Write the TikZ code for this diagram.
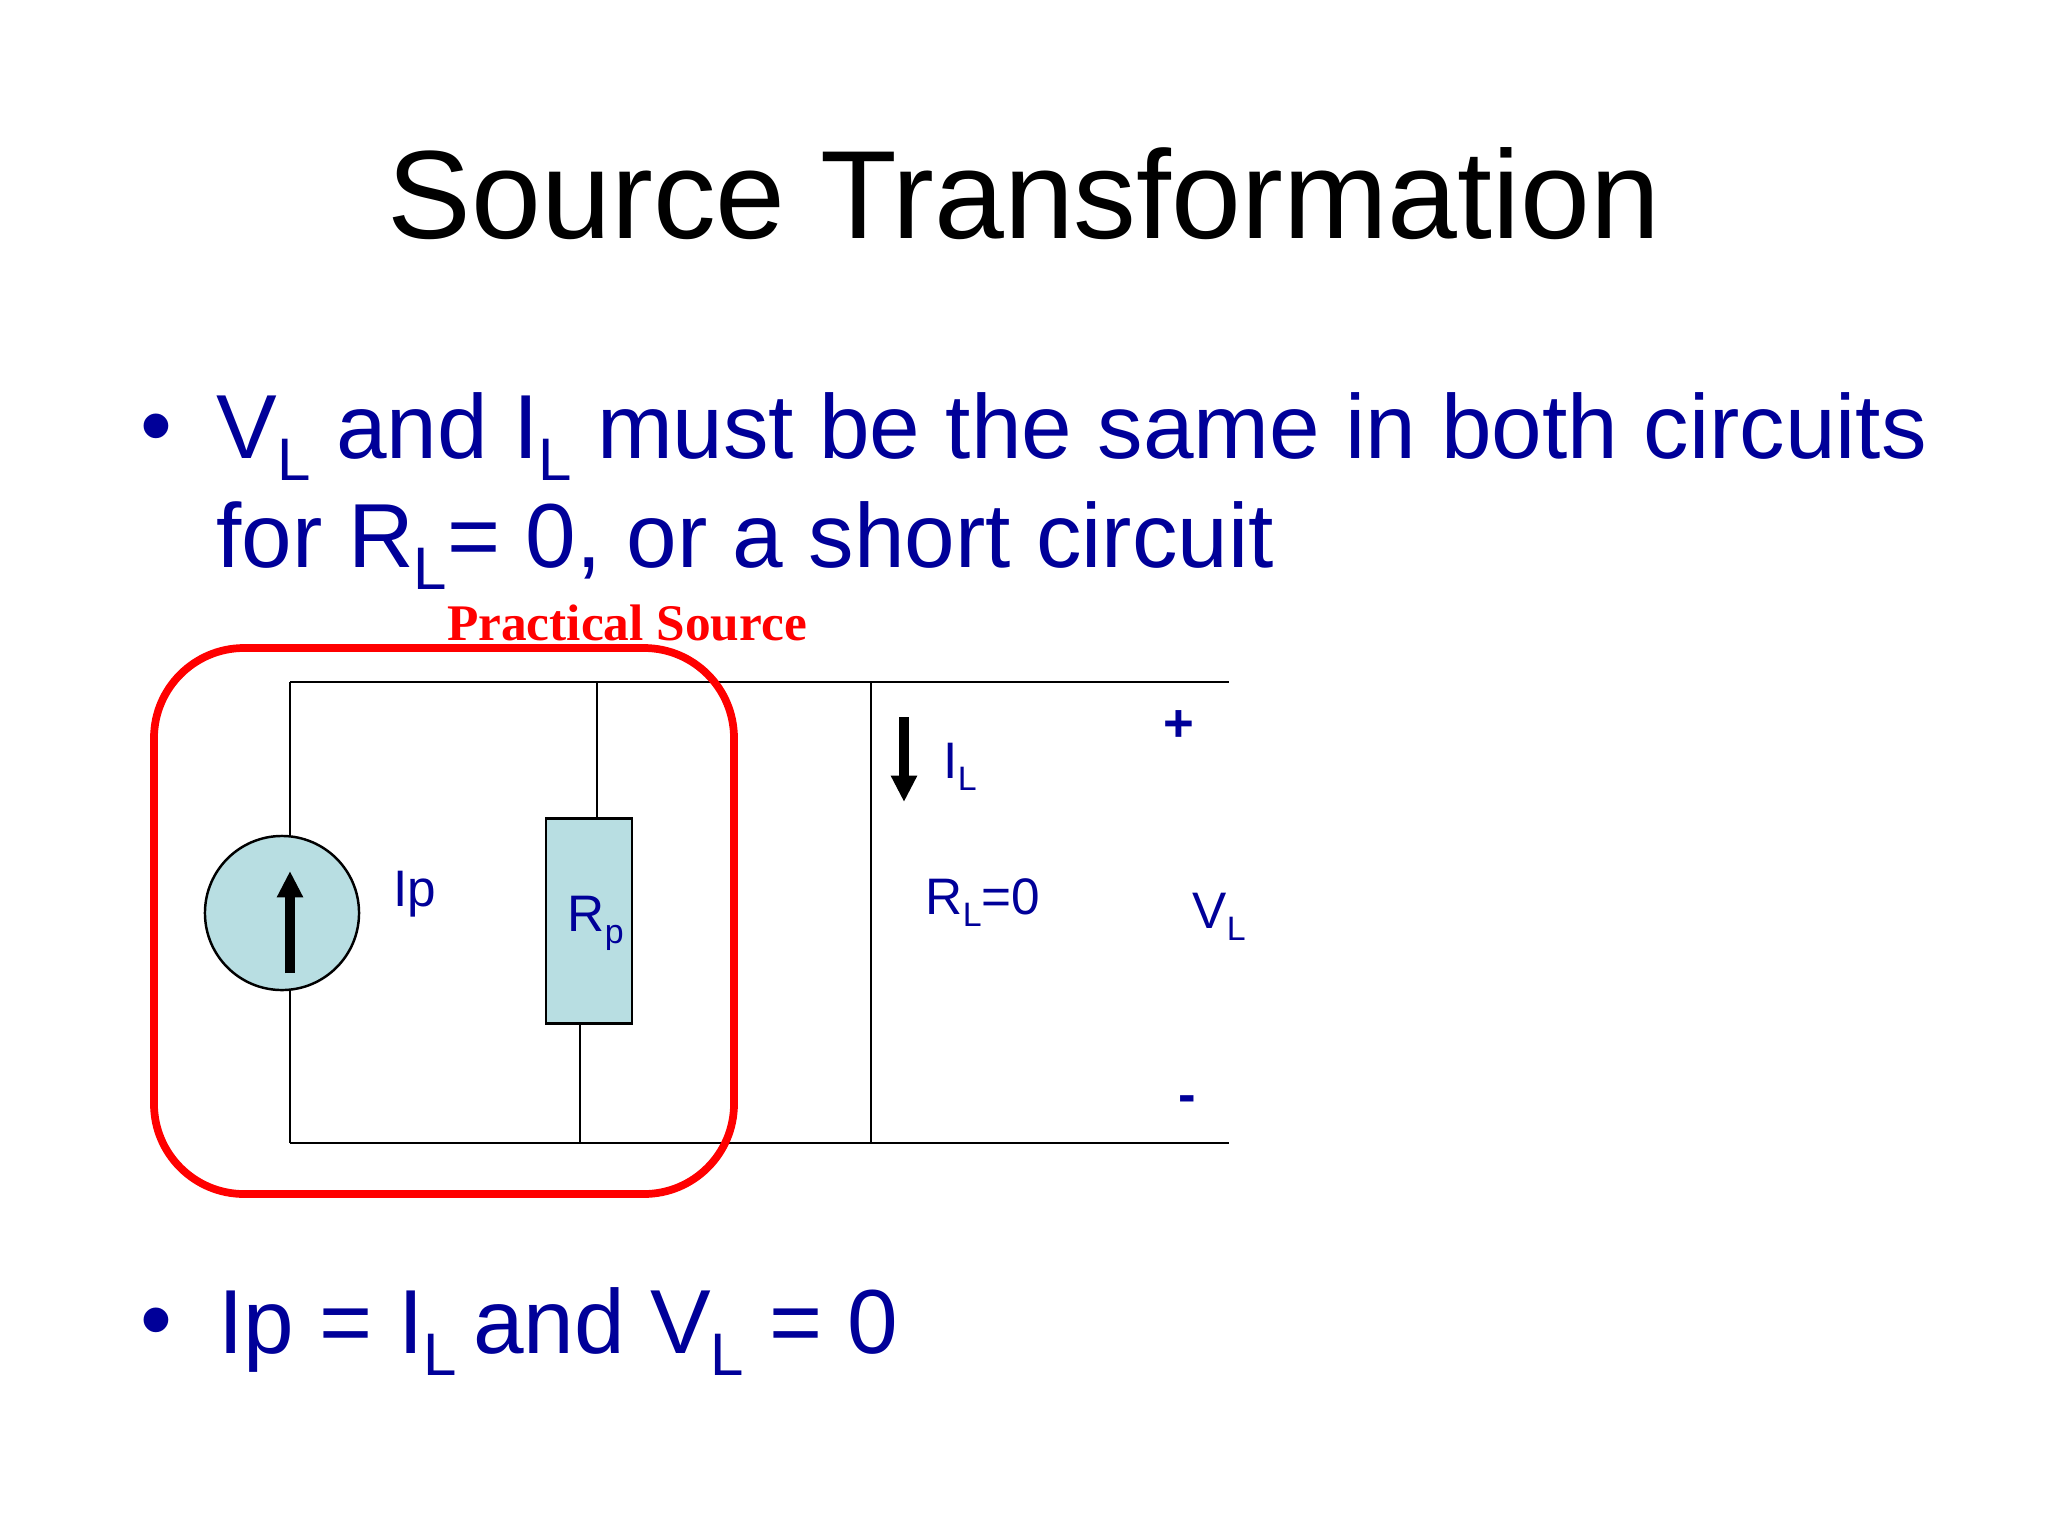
\documentclass[tikz,border=0pt]{standalone}
\usepackage{fontspec}
\usepackage{graphicx}
\setmainfont{Liberation Sans}
\newfontfamily\serifbold{Liberation Serif}
\usetikzlibrary{arrows.meta}
\definecolor{navy}{RGB}{0,0,153}
\definecolor{paleteal}{RGB}{184,222,226}
\newcommand{\lowidx}[1]{\raisebox{-0.25em}{\scalebox{0.66}{#1}}}
\begin{document}
\begin{tikzpicture}[x=0.01cm,y=-0.01cm,
  main/.style = {draw, fill=paleteal, line width=0.7pt},
  wire/.style = {line width=0.6pt},
  big/.style = {text=navy, anchor=base west, inner sep=0pt, font=\fontsize{25.87}{25.87}\selectfont},
  small/.style = {text=navy, anchor=base west, inner sep=0pt, font=\fontsize{14.6}{14.6}\selectfont},
  thick arrow/.style = {line width=2.7pt, -{Triangle[length=7.5pt,width=7pt]}}]
  \useasboundingbox (0,0) rectangle (2048,1536);
  \fill[white] (0,0) rectangle (2048,1536);

  \node[anchor=base, inner sep=0pt, font=\fontsize{35.7}{35.7}\selectfont] (title) at (1024,238) {Source Transformation};
  \node[big] (dot1) at (140,456) {•};
  \node[big] (line1) at (216,458) {V\lowidx{L} and I\lowidx{L} must be the same in both circuits};
  \node[big] (line2) at (216,567) {for R\lowidx{L}= 0, or a short circuit};
  \node[big] (dot2) at (140,1350) {•};
  \node[big] (line3) at (218,1353) {Ip = I\lowidx{L}\kern-0.1em{} and V\lowidx{L} = 0};
  \node[anchor=base, inner sep=0pt, text=red, font=\serifbold\bfseries\fontsize{14.6}{14.6}\selectfont] (practical) at (627,640) {Practical Source};

  % circuit
  \coordinate (tl) at (290,682);
  \coordinate (tr) at (1229,682);
  \coordinate (bl) at (290,1143);
  \coordinate (br) at (1229,1143);
  \coordinate (rt) at (597,682);
  \coordinate (rb) at (580,1143);
  \coordinate (st) at (871,682);
  \coordinate (sb) at (871,1143);
  \node[main, circle, minimum size=1.54cm, inner sep=0pt] (Ip) at (282,913) {};
  \node[main, minimum width=0.86cm, minimum height=2.05cm, inner sep=0pt] (Rp) at (589,921) {};
  \draw[wire] (tl) -- (tr);
  \draw[wire] (bl) -- (br);
  \draw[wire] (st) -- (sb);
  \draw[wire] (tl) -- (tl |- Ip.north);
  \draw[wire] (bl) -- (bl |- Ip.south);
  \draw[wire] (rt) -- (rt |- Rp.north);
  \draw[wire] (rb) -- (rb |- Rp.south);
  \coordinate (a1) at (290,973);
  \coordinate (a2) at (290,871);
  \draw[thick arrow] (a1) -- (a2);
  \coordinate (b1) at (904,717);
  \coordinate (b2) at (904,802);
  \draw[thick arrow] (b1) -- (b2);

  \draw[red, line width=2.2pt, rounded corners=0.9cm] (154,648) rectangle (734,1194);

  \node[small] (ip) at (393,906) {Ip};
  \node[small] (rp) at (567,931) {R\lowidx{p}};
  \node[small] (il) at (943,778) {I\lowidx{L}};
  \node[small] (rl) at (925,914) {R\lowidx{L}=0};
  \node[small] (vl) at (1192,928) {V\lowidx{L}};
  \node[small, font=\bfseries\fontsize{15}{15}\selectfont] (plus) at (1163,741) {+};
  \node[small, font=\bfseries\fontsize{15}{15}\selectfont] (minus) at (1178,1112) {-};
\end{tikzpicture}
\end{document}
